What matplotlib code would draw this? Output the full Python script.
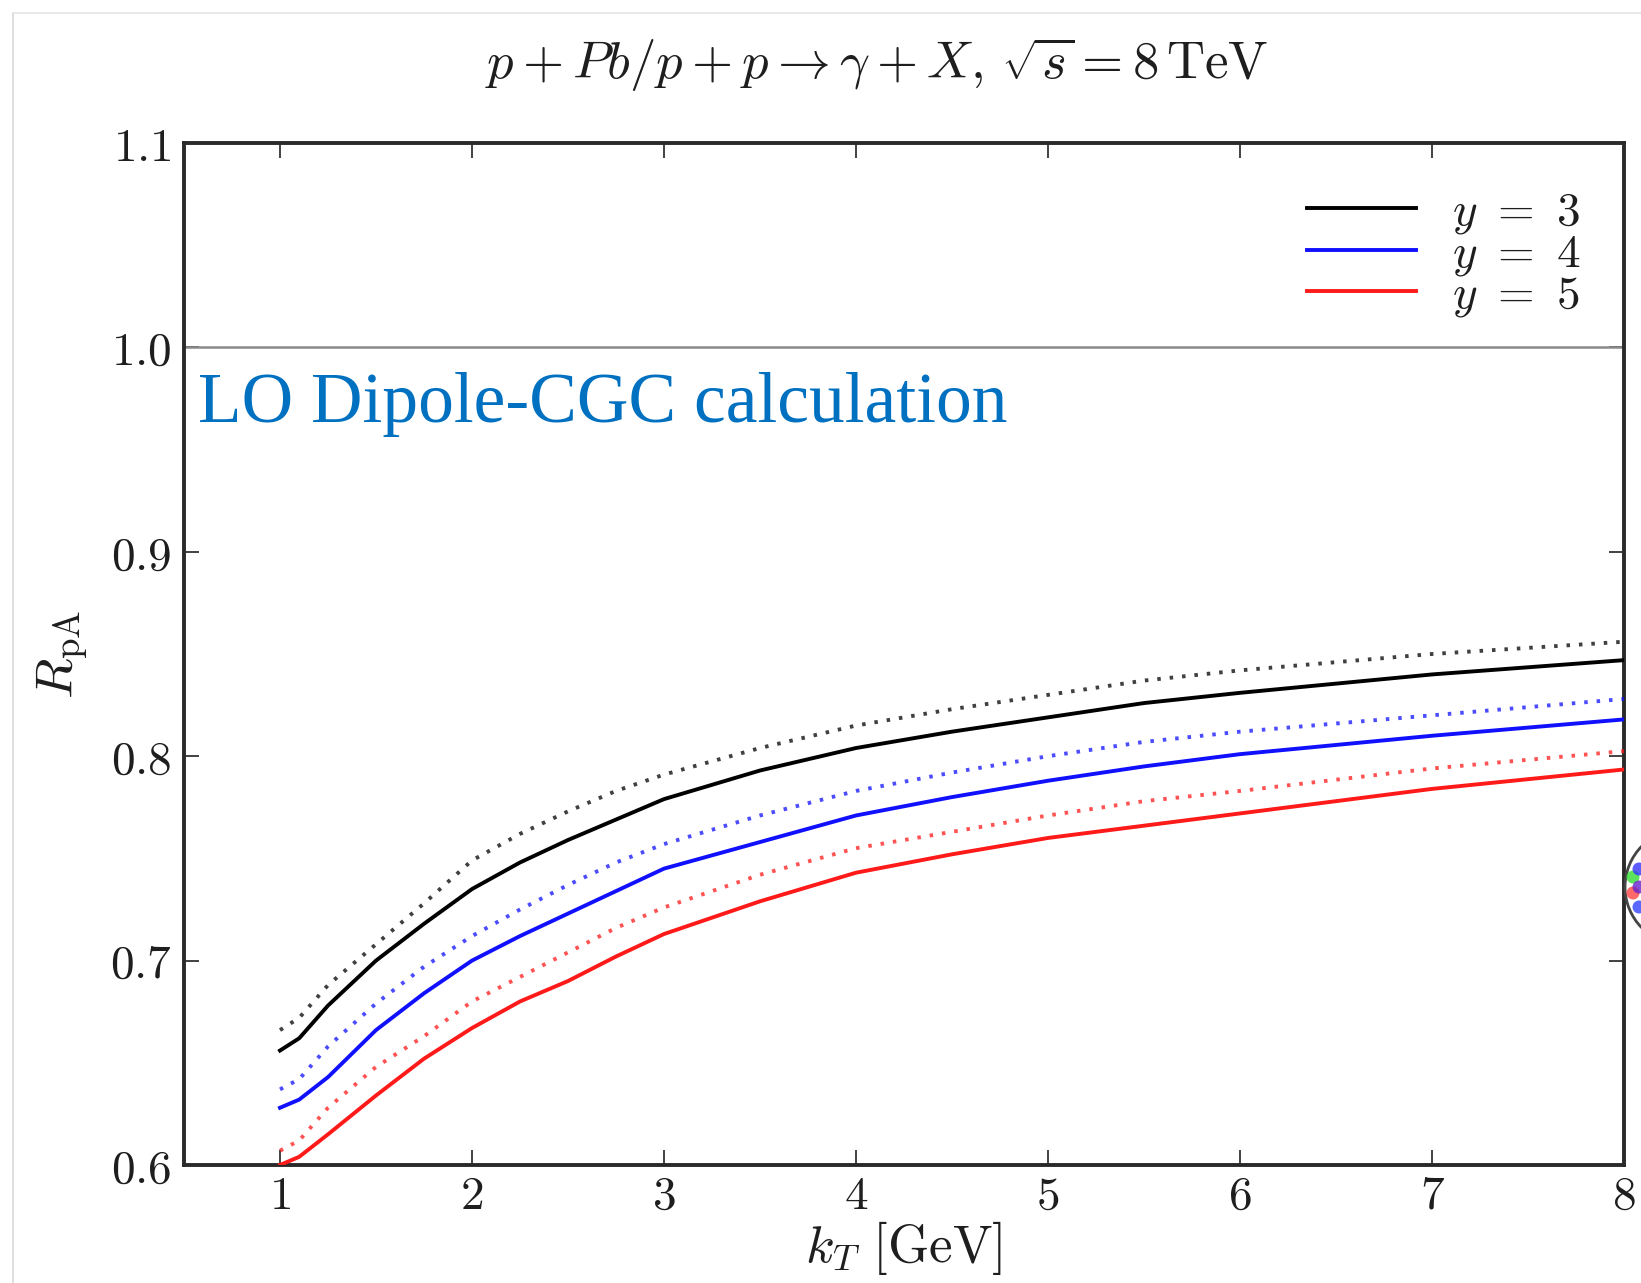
import matplotlib
matplotlib.use("Agg")
import matplotlib.pyplot as plt
from matplotlib.patches import Ellipse
from matplotlib.lines import Line2D

plt.rcParams['mathtext.fontset'] = 'cm'
plt.rcParams['font.family'] = ['DejaVu Serif']

# ---- data ----
kt = [1.0, 1.1, 1.25, 1.5, 1.75, 2.0, 2.25, 2.5, 2.75, 3.0, 3.5, 4.0, 4.5, 5.0, 5.5, 6.0, 7.0, 8.0]
y3_solid = [0.656, 0.662, 0.678, 0.700, 0.718, 0.735, 0.748, 0.759, 0.769, 0.779, 0.793, 0.804, 0.812, 0.819, 0.826, 0.831, 0.840, 0.847]
y3_dotted = [0.666, 0.672, 0.688, 0.708, 0.728, 0.749, 0.762, 0.773, 0.783, 0.791, 0.804, 0.815, 0.823, 0.830, 0.837, 0.842, 0.850, 0.856]
y4_solid = [0.628, 0.632, 0.643, 0.666, 0.684, 0.700, 0.712, 0.723, 0.734, 0.745, 0.758, 0.771, 0.780, 0.788, 0.795, 0.801, 0.810, 0.818]
y4_dotted = [0.637, 0.642, 0.658, 0.679, 0.697, 0.712, 0.725, 0.737, 0.748, 0.757, 0.771, 0.783, 0.792, 0.800, 0.807, 0.812, 0.820, 0.828]
y5_solid = [0.600, 0.604, 0.615, 0.634, 0.652, 0.667, 0.680, 0.690, 0.702, 0.713, 0.729, 0.743, 0.752, 0.760, 0.766, 0.772, 0.784, 0.7935]
y5_dotted = [0.607, 0.612, 0.628, 0.648, 0.663, 0.680, 0.692, 0.704, 0.716, 0.726, 0.742, 0.755, 0.763, 0.771, 0.778, 0.783, 0.794, 0.8025]

series_labels = [r'$y\ =\ 3$', r'$y\ =\ 4$', r'$y\ =\ 5$']
series_colors = ['black', '#1010ff', '#ff1a1a']
x_ticks = [1, 2, 3, 4, 5, 6, 7, 8]
y_ticks = [0.6, 0.7, 0.8, 0.9, 1.0, 1.1]
x_ticklabels = [r'$1$', r'$2$', r'$3$', r'$4$', r'$5$', r'$6$', r'$7$', r'$8$']
y_ticklabels = [r'$0.6$', r'$0.7$', r'$0.8$', r'$0.9$', r'$1.0$', r'$1.1$']

W, H = 1641, 1283
fig = plt.figure(figsize=(W / 100, H / 100), dpi=100)
fig.patch.set_facecolor('white')

# light frame of the screenshot
fig.add_artist(Line2D([13 / W, 13 / W], [0, 1 - 13 / H], transform=fig.transFigure, color='#d8d8d8', lw=1.2))
fig.add_artist(Line2D([13 / W, 1], [1 - 13 / H, 1 - 13 / H], transform=fig.transFigure, color='#e4e4e4', lw=1.2))

ax = fig.add_axes([184 / W, 1 - 1165 / H, (1624 - 184) / W, (1165 - 143) / H])

solids = [y3_solid, y4_solid, y5_solid]
dotteds = [y3_dotted, y4_dotted, y5_dotted]
for s, d, c, lab in zip(solids, dotteds, series_colors, series_labels):
    ax.plot(kt, d, color=c, lw=2.8, linestyle=(0, (0.9, 2.3)), alpha=0.75, zorder=3)
    ax.plot(kt, s, color=c, lw=2.8, label=lab, zorder=4)

ax.axhline(1.0, color='#8a8a8a', lw=1.8, zorder=2)

ax.set_xlim(0.5, 8)
ax.set_ylim(0.6, 1.1)
ax.set_xticks(x_ticks)
ax.set_xticklabels(x_ticklabels)
ax.set_yticks(y_ticks)
ax.set_yticklabels(y_ticklabels)
ax.tick_params(direction='in', length=11, width=1.3, colors='#333333', labelcolor='#1e1e1e',
               top=True, right=True, labelsize=34, pad=9)
ax.tick_params(axis='x', pad=6)
for sp in ax.spines.values():
    sp.set_linewidth(2.8)
    sp.set_color('#2a2a2a')

ax.set_xlabel(r'$k_T\ \mathrm{[GeV]}$', fontsize=38, color='#1e1e1e', labelpad=0)
ax.set_ylabel(r'$R_{\rm pA}$', fontsize=38, color='#1e1e1e', labelpad=14)

fig.text(877 / W, 1 - 65 / H, r'$p + Pb/p + p \rightarrow \gamma + X,\, \sqrt{s} = 8\,\mathrm{TeV}$',
         ha='center', va='center', fontsize=38, color='#1e1e1e')

ax.text(0.575, 0.9634, 'LO Dipole-CGC calculation', family='Liberation Serif',
        fontsize=51.5, color='#0070c0', ha='left', va='baseline', zorder=5)

leg = ax.legend(loc='upper right', bbox_to_anchor=(0.989, 0.982), frameon=False, fontsize=34,
                handlelength=2.32, handletextpad=0.75, labelspacing=-0.12, borderaxespad=0.2)
for t in leg.get_texts():
    t.set_color('#1e1e1e')

# partially visible logo at the right edge
logo = Ellipse((1683 / W, 1 - 887 / H), 116 / W, 116 / H, transform=fig.transFigure, facecolor='white',
               edgecolor='#444444', lw=2.0, clip_on=False)
fig.add_artist(logo)
for (cx, cy, cc) in [(1633, 877, '#33dd33'), (1633, 893, '#ff4444'), (1639, 869, '#3333ff'),
                     (1639, 887, '#6622cc'), (1639, 907, '#3344ff')]:
    fig.add_artist(Ellipse((cx / W, 1 - cy / H), 13 / W, 13 / H, transform=fig.transFigure,
                           facecolor=cc, edgecolor='none', alpha=0.8))

fig.savefig('out.png', dpi=100, facecolor='white')
